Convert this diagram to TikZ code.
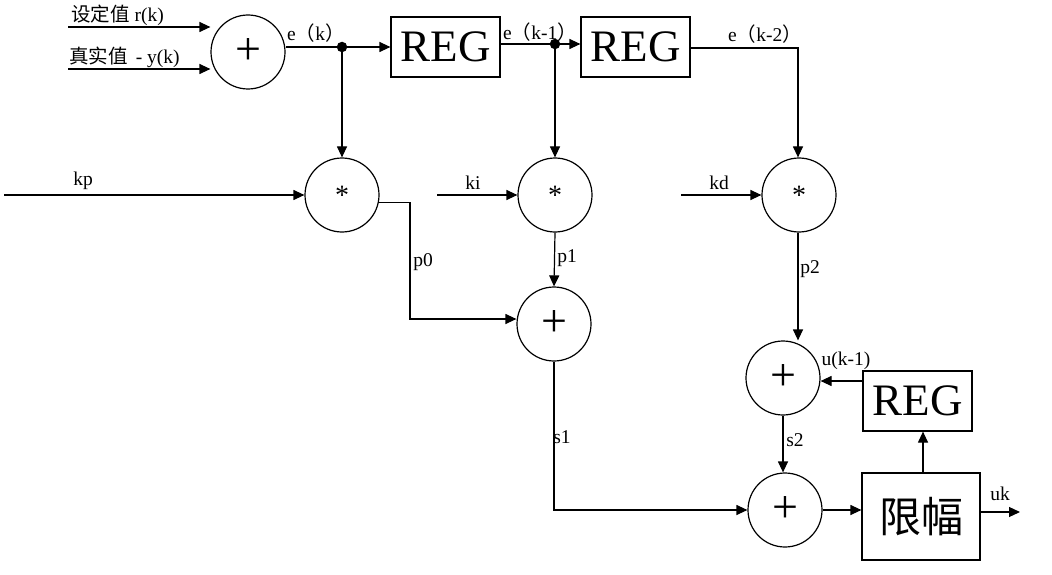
\documentclass[tikz,border=0pt]{standalone}
\usepackage{fontspec}
\setmainfont{Liberation Serif}
\newfontfamily\cjk{Noto Sans CJK SC}
\usetikzlibrary{arrows.meta}

\begin{document}
\begin{tikzpicture}[x=1pt,y=-1pt,
  sig/.style={-{Triangle[length=11pt,width=10pt]}, line width=1.2pt},
  wire/.style={line width=1.2pt},
  op/.style={draw, circle, line width=1.2pt, minimum size=74pt, inner sep=0pt},
  plus/.style={op, font=\fontsize{46}{46}\selectfont},
  mult/.style={op, font=\fontsize{28}{28}\selectfont},
  regbox/.style={draw, line width=1.2pt, minimum width=109pt, minimum height=60pt,
    inner sep=0pt, font=\fontsize{45}{45}\selectfont},
  limbox/.style={draw, line width=1.2pt, minimum width=118pt, minimum height=87pt,
    inner sep=0pt, font=\cjk\fontsize{42}{42}\selectfont},
  lbl/.style={font=\fontsize{19.5}{19.5}\selectfont, inner sep=0pt},
  inlbl/.style={font=\fontsize{19.5}{19.5}\selectfont, inner sep=0pt, anchor=base west},
  junction/.style={circle, fill=black, inner sep=0pt, minimum size=10.5pt}
]
\useasboundingbox (0,0) rectangle (1052,575);

% summing / multiplying junctions
\node[plus] (sa) at (248,52) {+};
\node[mult] (ma) at (342,195) {*};
\node[mult] (mb) at (555,195) {*};
\node[mult] (mc) at (799,195) {*};
\node[plus] (sb) at (554,324) {+};
\node[plus] (sc) at (783,378) {+};
\node[plus] (sd) at (785,510) {+};

% delay registers and limiter
\node[regbox] (r1) at (445.5,47) {REG};
\node[regbox] (r2) at (635.5,47) {REG};
\node[regbox] (r3) at (917.5,401) {REG};
\node[limbox] (lim) at (921,516.5) {限幅};

% branch points and free ends
\node[junction] (j1) at (342,47) {};
\node[junction] (j2) at (555,44) {};
\coordinate (c3) at (798,48);
\coordinate (fb) at (923,0);
\coordinate (in1) at (68,27);
\coordinate (in2) at (68,69);
\coordinate (kp) at (4,195);
\coordinate (ki) at (437,195);
\coordinate (kd) at (681,195);
\coordinate (p0c) at (410,319);
\coordinate (out) at (1020,512);

% inputs
\draw[sig] (in1) -- (in1 -| sa.west);
\draw[sig] (in2) -- (in2 -| sa.west);
\node[inlbl] (t1) at (71,22) {{\cjk 设定值} r(k)};
\node[inlbl] (t2) at (69,64) {{\cjk 真实值} \,- y(k)};

% error chain
\draw[wire] (sa.east |- j1) -- (j1);
\draw[sig] (j1) -- (r1.west |- j1);
\draw[sig] (j1) -- (ma.north);
\draw[wire] (r1.east |- j2) -- (j2);
\draw[sig] (j2) -- (r2.west |- j2);
\draw[sig] (j2) -- (mb.north);
\draw[sig] (r2.east |- c3) -- (c3) -- (mc.north -| c3);
\node[lbl, anchor=base west] (le0) at (287,41) {e{\cjk （}k{\cjk ）}};
\node[lbl, anchor=base west] (le1) at (503,40) {e{\cjk （}k-1{\cjk ）}};
\node[lbl, anchor=base west] (le2) at (728,42) {e{\cjk （}k-2{\cjk ）}};

% gains
\draw[sig] (kp) -- (ma.west);
\draw[sig] (ki) -- (mb.west);
\draw[sig] (kd) -- (mc.west);
\node[lbl] (lkp) at (83,181) {kp};
\node[lbl] (lki) at (473,183) {ki};
\node[lbl] (lkd) at (719,183) {kd};

% products
\draw[sig] (ma.-11) -| (p0c) -- (sb.west |- p0c);
\draw[sig] (mb.south) -- (sb.north);
\draw[sig] (mc.south -| c3) -- (sc.north -| c3);
\node[lbl] (lp0) at (423,262) {p0};
\node[lbl] (lp1) at (567,258) {p1};
\node[lbl] (lp2) at (810,269) {p2};

% sums and output
\draw[sig] (sb.south) |- (sd.west);
\draw[sig] (sc.south) -- (sd.north -| sc.south);
\draw[sig] (r3.west |- 0,381) -- (sc.east |- 0,381);
\draw[sig] (sd.east) -- (lim.west |- sd.east);
\draw[sig] (lim.north -| fb) -- (r3.south -| fb);
\draw[sig] (lim.east |- out) -- (out);
\node[lbl] (ls1) at (562,437) {s1};
\node[lbl] (ls2) at (795,440) {s2};
\node[lbl] (lu) at (846,361) {u(k-1)};
\node[lbl] (luk) at (1000,494) {uk};
\end{tikzpicture}
\end{document}
